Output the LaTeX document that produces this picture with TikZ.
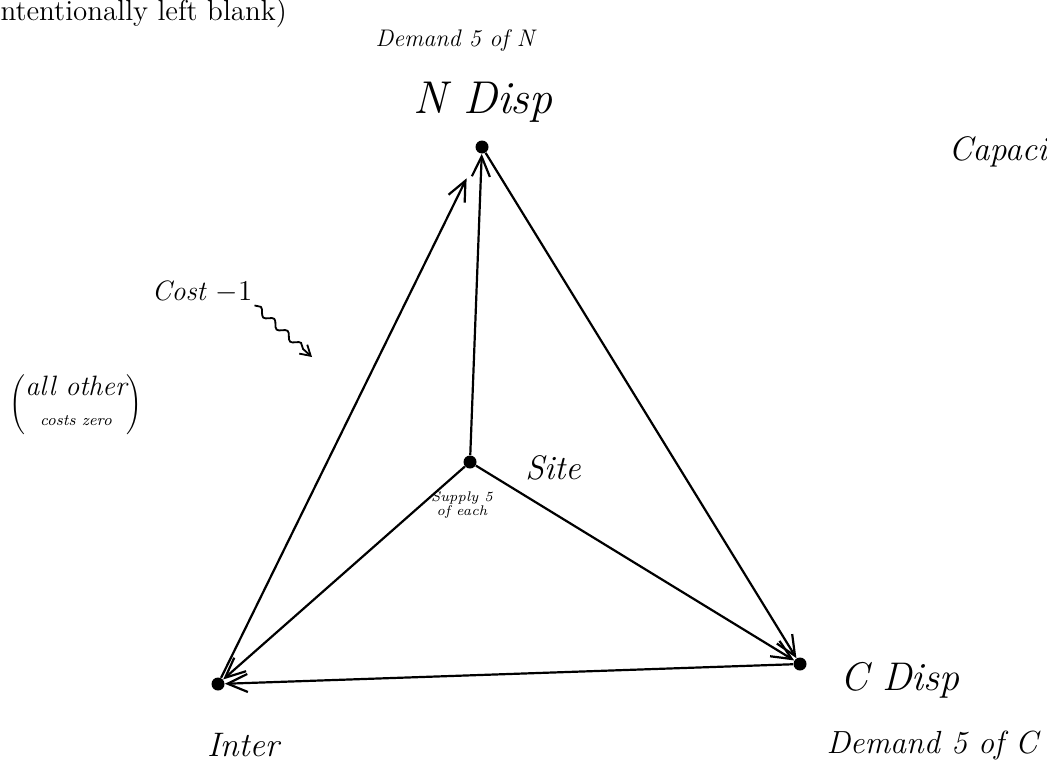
\documentclass[tikz,border=0pt]{standalone}
\usepackage{tikz}
\usetikzlibrary{arrows.meta, positioning, calc, decorations.pathmorphing}

\begin{document}
\begin{tikzpicture}[
    x=0.5pt, y=-0.5pt,
    every node/.style = {align=center},
    hand/.style    = {font=\itshape\fontsize{#1}{#1}\selectfont, inner sep=1pt},
    dot/.style     = {circle, fill=black, inner sep=0pt, minimum size=6.5pt},
    arr/.style     = {-{Straight Barb[length=10pt,width=9pt]}, line width=1.1pt},
    wiggle/.style  = {-{Straight Barb[length=5pt,width=6pt]}, line width=0.9pt,
                      decorate, decoration={snake, amplitude=1.6pt,
                      segment length=9pt, post length=5pt}},
]
\clip (0,0) rectangle (1047,771);

%% Header
\node[anchor=east, font=\fontsize{14.5}{16}\selectfont] (blank) at (294,13)
    {(intentionally left blank)};

%% Points
\node[dot] (ndisp) at (482,147) {};
\node[dot] (site)  at (470,462) {};
\node[dot] (inter) at (218,684) {};
\node[dot] (cdisp) at (800,664) {};

%% Labels
\node[hand=12]  (demN)   at (455,40)  {Demand 5 of N};
\node[hand=23]  (nname)  at (483,102) {N Disp};
\node[hand=17]  (cap)    at (998,152) {Capaci};
\node[hand=14]  (cost)   at (202,292) {Cost $-1$};
\node[hand=14]  (other)  at (76,405)
    {$\left(\begin{tabular}{@{}c@{}}all other\\[1pt]{\footnotesize costs zero}\end{tabular}\right)$};
\node[hand=17]  (sname)  at (553,468) {Site};
\node[hand=7]   (supply) at (462,505) {Supply 5\\of each};
\node[hand=17]  (iname)  at (243,745) {Inter};
\node[hand=20]  (cname)  at (900,680) {C Disp};
\node[hand=16]  (demC)   at (932,745) {Demand 5 of C};

%% Flows
\draw[arr] (site)  -- (ndisp);
\draw[arr, shorten >=14pt] (inter) -- (ndisp);
\draw[arr] (ndisp) -- (cdisp);
\draw[arr] (site)  -- (cdisp);
\draw[arr] (site)  -- (inter);
\draw[arr] (cdisp) -- (inter);

%% Cost pointer
\coordinate (costtip) at (312,357);
\draw[wiggle] (cost.south east) -- (costtip);

\end{tikzpicture}
\end{document}
